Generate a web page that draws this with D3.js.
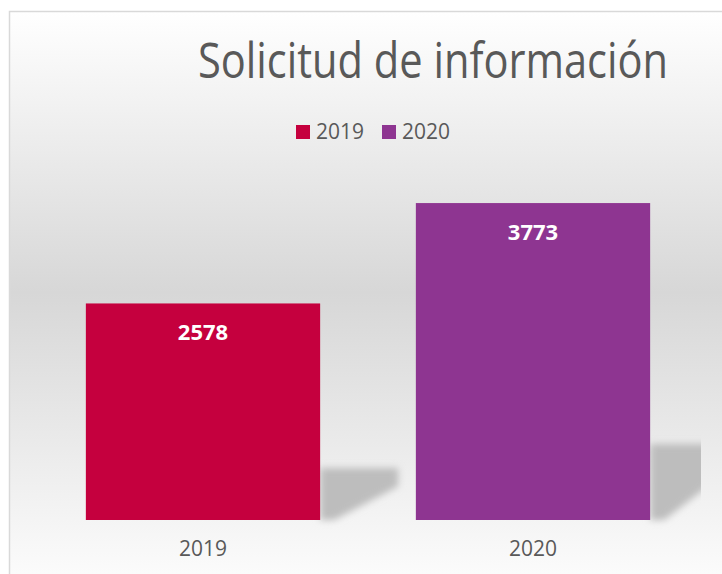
<!DOCTYPE html>
<html>
<head>
<meta charset="utf-8">
<script src="https://cdn.jsdelivr.net/npm/d3@7"></script>
<style>
  body { margin: 0; background: #ffffff; }
  svg { display: block; }
</style>
</head>
<body>
<script>
(function(){

    var categories = ["2019", "2020"];
    var values = [2578, 3773];
    var colors = ["#C5003E", "#8E3591"];
    var legendLabels = ["2019", "2020"];
    var title = "Solicitud de información";

    var font = "'Open Sans', 'DejaVu Sans', sans-serif";
    var width = 722, height = 574;

    var svg = d3.select("body")
        .append("svg")
        .attr("width", width)
        .attr("height", height);

    var defs = svg.append("defs");

    var grad = defs.append("linearGradient")
        .attr("id", "bg")
        .attr("gradientUnits", "userSpaceOnUse")
        .attr("x1", 0).attr("y1", 11)
        .attr("x2", 0).attr("y2", 574);
    grad.append("stop").attr("offset", "0").attr("stop-color", "#ffffff");
    grad.append("stop").attr("offset", "0.5").attr("stop-color", "#d7d7d7");
    grad.append("stop").attr("offset", "1").attr("stop-color", "#fbfbfb");

    defs.append("filter")
        .attr("id", "blur")
        .attr("x", "-20%").attr("y", "-20%")
        .attr("width", "140%").attr("height", "140%")
        .append("feGaussianBlur")
        .attr("stdDeviation", 3.5);

    defs.append("clipPath")
        .attr("id", "plotclip")
        .append("rect")
        .attr("x", 9).attr("y", 11)
        .attr("width", 692).attr("height", 520);

    // chart area
    svg.append("rect")
        .attr("x", 9.5)
        .attr("y", 11.5)
        .attr("width", 740)
        .attr("height", 600)
        .attr("fill", "url(#bg)")
        .attr("stroke", "#d9d9d9")
        .attr("stroke-width", 1.5);

    var x = d3.scaleBand()
        .domain(categories)
        .range([38, 698])
        .paddingInner(0.29)
        .paddingOuter(0.145);

    var y = d3.scaleLinear()
        .domain([0, 4000])
        .range([520, 184]);

    // shadows
    var shadows = svg.append("g")
        .attr("clip-path", "url(#plotclip)");

    shadows.selectAll(".shadow")
        .data(values)
        .enter()
        .append("path")
        .attr("class", "shadow")
        .attr("fill", "#bdbdbd")
        .attr("filter", "url(#blur)")
        .attr("d", function(d, i){
            var xr = x(categories[i]) + x.bandwidth();
            var y0 = y(0);
            var h = y0 - y(d);
            var yt = y0 - h * 0.24;
            return "M" + xr + "," + yt +
                "L" + (xr + 78) + "," + yt +
                "L" + (xr + 78) + "," + (yt + (y0 - yt) * 0.35) +
                "L" + (xr + 14) + "," + y0 +
                "L" + xr + "," + y0 + "Z";
        });

    // bars
    svg.selectAll(".bar")
        .data(values)
        .enter()
        .append("rect")
        .attr("class", "bar")
        .attr("x", function(d, i){ return x(categories[i]); })
        .attr("y", function(d){ return y(d); })
        .attr("width", x.bandwidth())
        .attr("height", function(d){ return y(0) - y(d); })
        .attr("fill", function(d, i){ return colors[i]; });

    // value labels
    svg.selectAll(".val")
        .data(values)
        .enter()
        .append("text")
        .attr("class", "val")
        .attr("x", function(d, i){ return x(categories[i]) + x.bandwidth() / 2; })
        .attr("y", function(d){ return y(d) + 37; })
        .attr("text-anchor", "middle")
        .attr("font-family", font)
        .attr("font-weight", "bold")
        .attr("font-size", 22)
        .attr("fill", "#ffffff")
        .text(function(d){ return d; });

    // category axis
    var xAxis = svg.append("g")
        .attr("transform", "translate(0," + y(0) + ")")
        .call(d3.axisBottom(x).tickSize(0).tickPadding(21));
    xAxis.select(".domain").remove();
    xAxis.selectAll("text")
        .attr("font-family", font)
        .attr("font-size", 21)
        .attr("fill", "#595959");

    // title (narrow face: smaller font stretched vertically)
    svg.append("text")
        .attr("transform", "translate(433,78) scale(1,1.22)")
        .attr("text-anchor", "middle")
        .attr("font-family", font)
        .attr("font-size", 40)
        .attr("fill", "#595959")
        .attr("textLength", 470)
        .attr("lengthAdjust", "spacingAndGlyphs")
        .text(title);

    // legend
    var legendX = [296, 382];
    var legend = svg.selectAll(".legend")
        .data(legendLabels)
        .enter()
        .append("g")
        .attr("class", "legend")
        .attr("transform", function(d, i){ return "translate(" + legendX[i] + ",125)"; });

    legend.append("rect")
        .attr("width", 14)
        .attr("height", 14)
        .attr("fill", function(d, i){ return colors[i]; });

    legend.append("text")
        .attr("x", 20)
        .attr("y", 14)
        .attr("font-family", font)
        .attr("font-size", 21)
        .attr("fill", "#595959")
        .text(function(d){ return d; });

})();
</script>
</body>
</html>
